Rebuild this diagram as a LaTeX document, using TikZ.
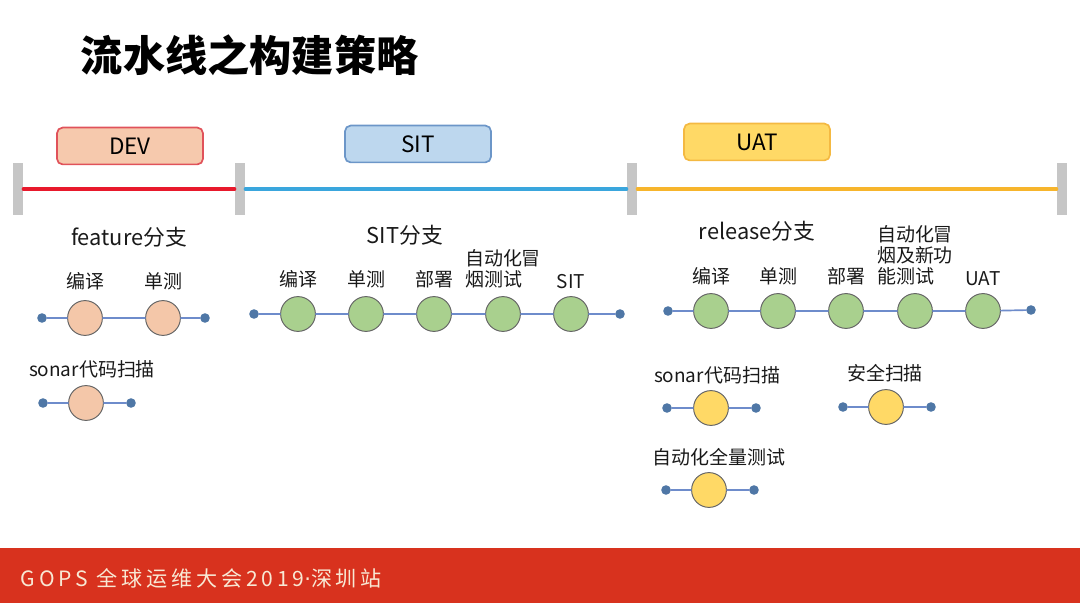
\documentclass[tikz,border=0pt]{standalone}
\usepackage{fontspec}
\setmainfont{Noto Sans CJK SC}
\newfontfamily\footfont[LetterSpace=18]{Noto Sans CJK SC}
\newfontfamily\dotfont{DejaVu Sans}
\usetikzlibrary{positioning}

\definecolor{devline}{HTML}{E8192C}
\definecolor{sitline}{HTML}{3AA6DD}
\definecolor{uatline}{HTML}{F7B52C}
\definecolor{barfill}{HTML}{C6C6C6}
\definecolor{devfill}{HTML}{F6C9AD}
\definecolor{devdraw}{HTML}{E0525A}
\definecolor{sitfill}{HTML}{BDD7EE}
\definecolor{sitdraw}{HTML}{6C96C8}
\definecolor{uatfill}{HTML}{FFD966}
\definecolor{uatdraw}{HTML}{F4B942}
\definecolor{peach}{HTML}{F4C7A9}
\definecolor{leaf}{HTML}{A9D08E}
\definecolor{gold}{HTML}{FFD966}
\definecolor{pipe}{HTML}{6E8CCB}
\definecolor{knobfill}{HTML}{4F77A6}
\definecolor{footred}{HTML}{D8321E}
\definecolor{foottext}{HTML}{F8E8D4}

\tikzset{
    bar/.style={fill=barfill, minimum width=0.25cm, minimum height=1.3cm, inner sep=0},
    stage/.style={rounded corners=4pt, line width=1.2pt, minimum width=3.65cm,
        minimum height=0.92cm, font=\fontsize{16}{18}\selectfont},
    task/.style={circle, draw=gray!80!black, line width=0.7pt, minimum size=0.87cm, inner sep=0},
    knob/.style={circle, fill=knobfill, minimum size=0.24cm, inner sep=0},
    lbl/.style={font=\fontsize{13.5}{15}\selectfont, align=left, text=black!90, inner sep=1pt},
    head/.style={font=\fontsize{15.5}{17}\selectfont, text=black!90},
    link/.style={pipe, line width=1.2pt}
}

\begin{document}
\begin{tikzpicture}[x=0.025cm, y=-0.025cm, line cap=round]
    \useasboundingbox (0,0) rectangle (1080,603);

    % --- TITLE ---
    \node[anchor=west, font=\fontsize{30}{34}\selectfont\bfseries] (title) at (76,55) {流水线之构建策略};

    % --- TIMELINE ---
    % gray bars split the line into three stages
    \node[bar] (b1) at (18,189) {};
    \node[bar] (b2) at (240,189) {};
    \node[bar] (b3) at (632,189) {};
    \node[bar] (b4) at (1062,189) {};
    \draw[devline, line width=2.2pt] (b1) -- (b2);
    \draw[sitline, line width=2.2pt] (b2) -- (b3);
    \draw[uatline, line width=2.2pt] (b3) -- (b4);

    % stage boxes
    \node[stage, fill=devfill, draw=devdraw] (dev) at (130,146) {DEV};
    \node[stage, fill=sitfill, draw=sitdraw] (sit) at (418,144) {SIT};
    \node[stage, fill=uatfill, draw=uatdraw] (uat) at (757,142) {UAT};

    % --- DEV: feature branch ---
    \node[head] (fb) at (129,237) {feature分支};
    \node[knob] (d0) at (42,318) {};
    \foreach \x [count=\i] in {85,163}
        \node[task, fill=peach] (d\i) at (\x,318) {};
    \node[knob] (d3) at (205,318) {};
    \foreach \i [count=\j from 1] in {0,...,2}
        \draw[link] (d\i) -- (d\j);
    \node[lbl, above=2mm of d1] (dl1) {编译};
    \node[lbl, above=2mm of d2] (dl2) {单测};

    % sonar scan
    \node[lbl] (ds) at (92,369) {sonar代码扫描};
    \node[knob] (e0) at (43,403) {};
    \node[task, fill=peach] (e1) at (86,403) {};
    \node[knob] (e2) at (131,403) {};
    \draw[link] (e0) -- (e1);
    \draw[link] (e1) -- (e2);

    % --- SIT: SIT branch ---
    \node[head] (sb) at (405,235) {SIT分支};
    \node[knob] (s0) at (254,314) {};
    \foreach \x [count=\i] in {298,366,434,503,571}
        \node[task, fill=leaf] (s\i) at (\x,314) {};
    \node[knob] (s6) at (620,314) {};
    \foreach \i [count=\j from 1] in {0,...,5}
        \draw[link] (s\i) -- (s\j);
    \foreach \t [count=\i] in {编译,单测,部署,{自动化冒\\烟测试},SIT}
        \node[lbl, above=1.5mm of s\i] (sl\i) {\t};

    % --- UAT: release branch ---
    \node[head] (rb) at (757,231) {release分支};
    \node[knob] (u0) at (668,311) {};
    \foreach \x [count=\i] in {711,778,846,915,983}
        \node[task, fill=leaf] (u\i) at (\x,311) {};
    \node[knob] (u6) at (1031,310) {};
    \foreach \i [count=\j from 1] in {0,...,5}
        \draw[link] (u\i) -- (u\j);
    \foreach \t [count=\i] in {编译,单测,部署,{自动化冒\\烟及新功\\能测试},UAT}
        \node[lbl, above=1.5mm of u\i] (ul\i) {\t};

    % sonar scan
    \node[lbl] (us) at (717,375) {sonar代码扫描};
    \node[knob] (v0) at (667,408) {};
    \node[task, fill=gold] (v1) at (711,408) {};
    \node[knob] (v2) at (756,408) {};
    \draw[link] (v0) -- (v1);
    \draw[link] (v1) -- (v2);

    % security scan
    \node[lbl] (ss) at (885,373) {安全扫描};
    \node[knob] (w0) at (843,407) {};
    \node[task, fill=gold] (w1) at (886,407) {};
    \node[knob] (w2) at (931,407) {};
    \draw[link] (w0) -- (w1);
    \draw[link] (w1) -- (w2);

    % full automated test
    \node[lbl] (fa) at (719,457) {自动化全量测试};
    \node[knob] (f0) at (666,490) {};
    \node[task, fill=gold] (f1) at (709,490) {};
    \node[knob] (f2) at (754,490) {};
    \draw[link] (f0) -- (f1);
    \draw[link] (f1) -- (f2);

    % --- FOOTER ---
    \fill[footred] (0,548) rectangle (1080,603);
    \node[anchor=west, text=foottext, font=\footfont\fontsize{15}{17}\selectfont] (foot) at (16,578)
        {GOPS 全球运维大会2019{\dotfont ·}深圳站};
\end{tikzpicture}
\end{document}
